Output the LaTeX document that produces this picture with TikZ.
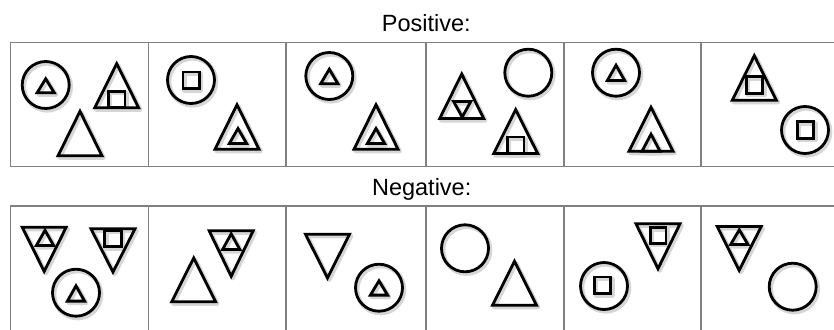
\documentclass[tikz,border=0pt]{standalone}
\usepackage{fontspec}
\setmainfont{Liberation Sans}
\begin{document}
\begin{tikzpicture}[x=1pt,y=-1pt,
  frame/.style={draw=black!50, line width=1.3pt},
  ink/.style={draw=black, line width=2.8pt, line join=miter},
  shade/.style={draw=black!16, line width=4.4pt, line join=round, shift={(1.6,1.9)}},
  lbl/.style={anchor=base, inner sep=0pt, font=\fontsize{23.5}{28}\selectfont}]
\useasboundingbox (0,0) rectangle (834,329);
\clip (0,0) rectangle (834,329);
\fill[white] (0,0) rectangle (834,329);
% shape macros
\newcommand\utri[4]{\draw[shp] (#1-#4,#3) -- (#1,#2) -- (#1+#4,#3) -- cycle;}
\newcommand\dtri[4]{\draw[shp] (#1-#4,#2) -- (#1,#3) -- (#1+#4,#2) -- cycle;}
\newcommand\sqr[3]{\draw[shp] (#1-#3/2,#2-#3/2) rectangle (#1+#3/2,#2+#3/2);}
\newcommand\ring[2]{\draw[shp] (#1,#2) circle[radius=23.5];}
\newcommand\allshapes{%
  % ---- positive row ----
  % cell 1
  \ring{45.7}{85}\utri{45.7}{78.8}{92.8}{8.6}
  \utri{116.7}{63.7}{107.8}{22}\sqr{116.8}{99.4}{16.5}
  \utri{80}{111.3}{155.8}{22}
  % cell 2
  \ring{191}{80}\sqr{191.2}{80.2}{16.5}
  \utri{237}{104.7}{149.2}{22}\utri{238}{128.5}{143.4}{8.6}
  % cell 3
  \ring{329.3}{76}\utri{329.3}{69.2}{83.7}{8.6}
  \utri{376}{104.7}{149.2}{22}\utri{376}{128.5}{143.4}{8.6}
  % cell 4
  \utri{461.7}{74}{118.5}{22}\dtri{462.2}{101.5}{117}{8.6}
  \ring{528.3}{72.7}
  \utri{515.7}{109.7}{153.5}{22}\sqr{515.8}{145.2}{16.5}
  % cell 5
  \ring{616}{72.7}\utri{616}{65.2}{80.4}{8.6}
  \utri{651}{107.3}{151.2}{22}\utri{651}{134.2}{151.2}{9}
  % cell 6
  \utri{754.3}{55.7}{100.2}{22}\sqr{754.5}{85}{16.5}
  \ring{805}{130}\sqr{805.5}{130}{16.5}
  % ---- negative row ----
  % cell 1
  \dtri{44.2}{227.2}{271.3}{22}\utri{45}{230.3}{245.4}{8.6}
  \dtri{113}{228.8}{272}{22}\sqr{113}{238.5}{16.5}
  \ring{76}{292.7}\utri{76}{285.8}{301.1}{8.6}
  % cell 2
  \utri{193.7}{258}{301.8}{22}
  \dtri{231.2}{230.8}{276.3}{22}\utri{231.2}{233.8}{249.4}{8.6}
  % cell 3
  \dtri{327.5}{234.2}{278}{22}
  \ring{379}{287.7}\utri{379}{280.8}{295.1}{8.6}
  % cell 4
  \ring{465}{248.3}
  \utri{514.5}{261.3}{305.2}{22}
  % cell 5
  \ring{604}{286}\sqr{602.5}{285.2}{16.5}
  \dtri{658}{223.8}{268.7}{22}\sqr{658.3}{235.5}{15.5}
  % cell 6
  \dtri{739.2}{226.5}{270.3}{22}\utri{739.3}{229.8}{244.4}{8.6}
  \ring{792.7}{286.7}
}
% frames
\draw[frame] (10.7,42.5) rectangle (860,166.8);
\draw[frame] (10.7,206) rectangle (860,360);
\foreach \xx/\nm in {148.3/a,286/b,426/c,564/d,701/e}{
  \draw[frame] (\xx,42.5) -- (\xx,166.8);
  \draw[frame] (\xx,206) -- (\xx,360);
}
% labels
\node[lbl] (pos) at (426.3,31.7) {Positive:};
\node[lbl] (neg) at (421.7,195) {Negative:};
% shadows then ink
\begin{scope}[shp/.style={shade}]
  \allshapes
\end{scope}
\begin{scope}[shp/.style={ink}]
  \allshapes
\end{scope}
\end{tikzpicture}
\end{document}
